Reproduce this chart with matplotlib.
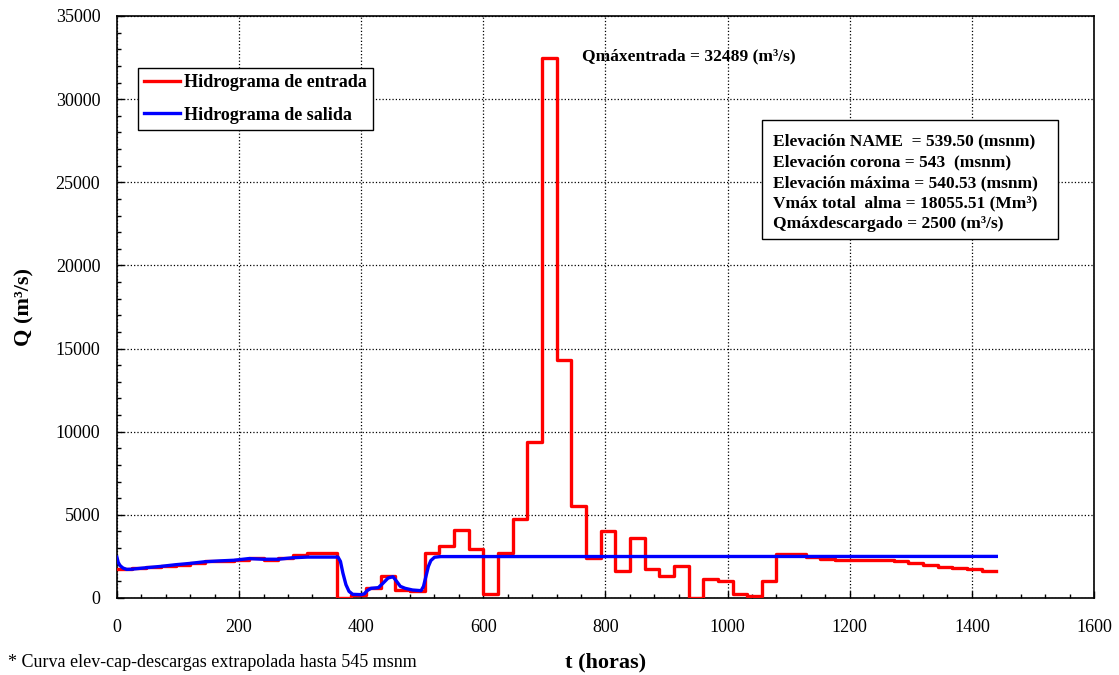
import matplotlib
matplotlib.use("Agg")
import matplotlib.pyplot as plt
from matplotlib.ticker import MultipleLocator
from matplotlib.patches import Rectangle

plt.rcParams['font.family'] = ['Liberation Serif', 'DejaVu Serif']

# hidrograma de entrada: escalones de 24 h (inicio de cada escalon, m3/s)
t_in = [0, 24, 48, 72, 96, 120, 144, 168, 192, 216, 240, 264, 288, 312, 336,
        360, 384, 408, 432, 456, 480, 504, 528, 552, 576, 600, 624, 648, 672, 696,
        720, 744, 768, 792, 816, 840, 864, 888, 912, 936, 960, 984, 1008, 1032, 1056,
        1080, 1104, 1128, 1152, 1176, 1200, 1224, 1248, 1272, 1296, 1320, 1344, 1368, 1392, 1416]
q_in = [1750, 1800, 1850, 1950, 2000, 2100, 2200, 2250, 2300, 2400, 2300, 2400, 2600, 2700, 2700,
        0, 200, 600, 1300, 500, 400, 2700, 3100, 4100, 2950, 250, 2700, 4750, 9400, 32489,
        14300, 5550, 2400, 4050, 1600, 3600, 1750, 1300, 1900, 0, 1150, 1000, 250, 100, 1000,
        2650, 2650, 2450, 2350, 2280, 2280, 2260, 2260, 2210, 2130, 1970, 1890, 1790, 1730, 1650]
t_end = 1440

# hidrograma de salida (transitado)
t_out = [0, 2, 5, 10, 16, 24, 48, 72, 96, 120, 144, 168, 192, 216, 240, 264, 288, 312,
         340, 362, 366, 370, 375, 380, 386, 400, 405, 410, 416, 428, 436, 444, 452, 458,
         464, 472, 484, 498, 502, 506, 510, 514, 520, 530, 1440]
q_out = [2450, 2150, 1950, 1800, 1720, 1730, 1820, 1900, 2000, 2080, 2180, 2230, 2270, 2370,
         2330, 2330, 2420, 2460, 2460, 2460, 2200, 1500, 800, 400, 220, 200, 250, 450, 580,
         620, 900, 1200, 1280, 1000, 700, 580, 480, 440, 700, 1300, 1900, 2250, 2450, 2490, 2500]

fig = plt.figure(figsize=(11.19, 6.75), dpi=100)
ax = fig.add_axes([0.1045, 0.1141, 0.8732, 0.8622])

ax.step(t_in + [t_end], q_in + [q_in[-1]], where='post', color='#ff0000', lw=2.4,
        label='Hidrograma de entrada', zorder=3)
ax.plot(t_out, q_out, color='#0000ff', lw=2.4, label='Hidrograma de salida', zorder=4)

ax.set_xlim(0, 1600)
ax.set_ylim(0, 35000)
ax.xaxis.set_major_locator(MultipleLocator(200))
ax.xaxis.set_minor_locator(MultipleLocator(40))
ax.yaxis.set_major_locator(MultipleLocator(5000))
ax.yaxis.set_minor_locator(MultipleLocator(1000))
ax.tick_params(which='both', direction='in', labelsize=13, width=1)
ax.tick_params(which='major', length=5)
ax.tick_params(which='minor', length=3)
ax.tick_params(axis='x', pad=15)
ax.tick_params(axis='y', pad=12)
ax.grid(True, which='major', color='black', linestyle=':', lw=0.9)
for s in ax.spines.values():
    s.set_linewidth(1.2)

ax.set_xlabel('t (horas)', fontsize=16, fontweight='bold', labelpad=12)
ax.set_ylabel('Q (m³/s)', fontsize=16, fontweight='bold', labelpad=15)

leg = ax.legend(loc='upper left', bbox_to_anchor=(0.0215, 0.9107), borderaxespad=0,
                fancybox=False, edgecolor='black', framealpha=1,
                prop={'size': 13, 'weight': 'bold'},
                handlelength=2.0, handletextpad=0.2, labelspacing=0.85, borderpad=0.35)
leg.get_frame().set_linewidth(1.0)

ax.text(761, 32600, 'Qmáxentrada = 32489 (m³/s)', fontsize=12.5, fontweight='bold',
        va='center', ha='left')

# cuadro de resultados
ax.add_patch(Rectangle((0.660, 0.6168), 0.303, 0.2045, transform=ax.transAxes,
                       facecolor='white', edgecolor='black', lw=1.0, zorder=5))
info = ('Elevación NAME  = 539.50 (msnm)\n'
        'Elevación corona = 543  (msnm)\n'
        'Elevación máxima = 540.53 (msnm)\n'
        'Vmáx total  alma = 18055.51 (Mm³)\n'
        'Qmáxdescargado = 2500 (m³/s)')
ax.text(0.6714, 0.7976, info, transform=ax.transAxes, fontsize=12.5, fontweight='bold',
        va='top', ha='left', linespacing=1.38, zorder=6)

fig.text(0.007, 0.019, '* Curva elev-cap-descargas extrapolada hasta 545 msnm', fontsize=13,
         ha='left', va='center')

fig.savefig('out.png', dpi=100)
